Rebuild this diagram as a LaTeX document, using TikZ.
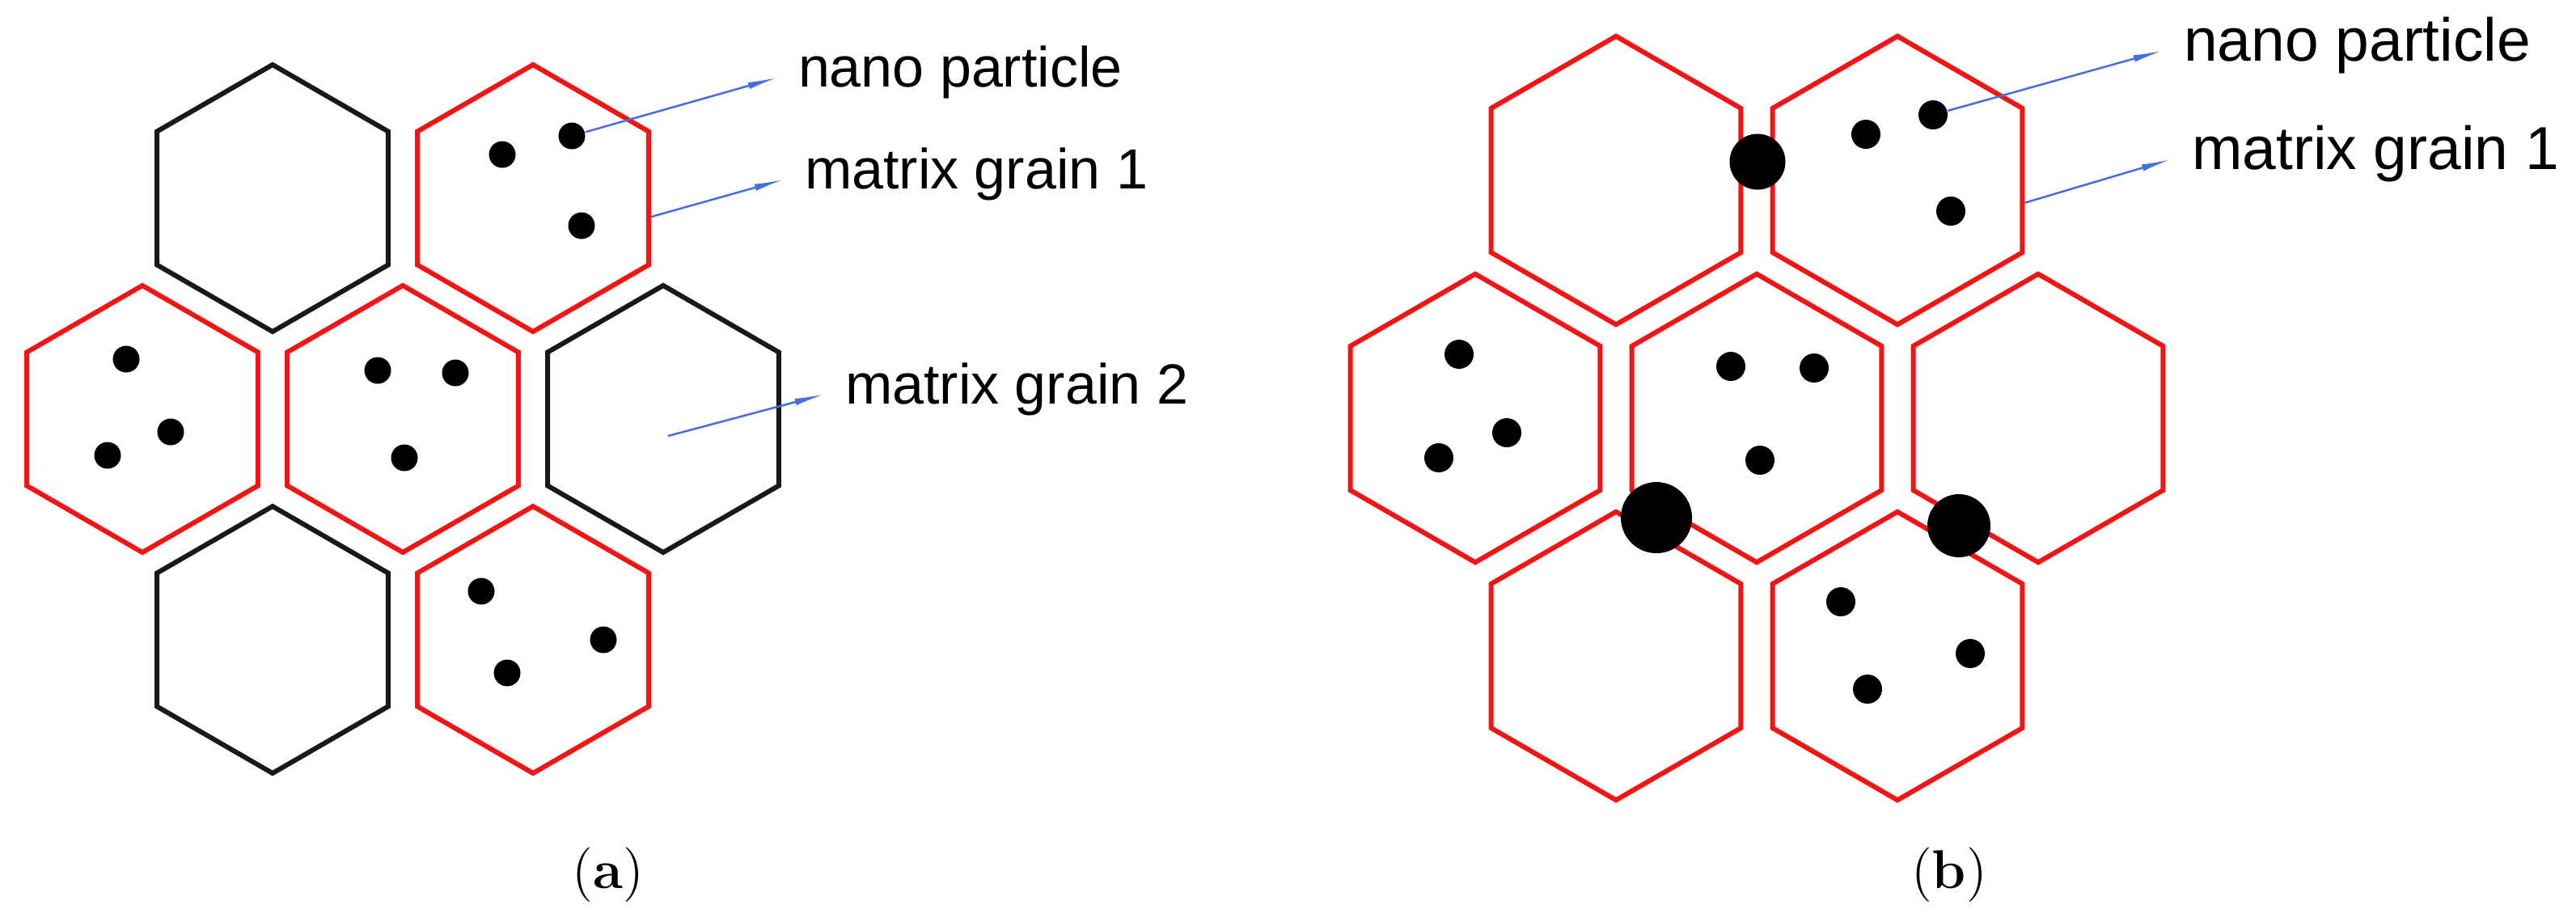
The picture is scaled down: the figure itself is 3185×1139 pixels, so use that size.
\documentclass[tikz,border=0pt]{standalone}
\usepackage{fontspec}
\usepackage{tikz}
\usetikzlibrary{positioning,shapes,arrows.meta,calc}
\newfontfamily\labelfont{Liberation Sans}
\definecolor{grainred}{RGB}{245,20,20}
\definecolor{leaderblue}{RGB}{70,110,225}
\tikzstyle{grain1} = [regular polygon, regular polygon sides=6, shape border rotate=30, %
   draw=grainred, line width=1.2pt, inner sep=0pt, minimum size=66pt]
\tikzstyle{grain2} = [grain1, draw=black!90]
\tikzstyle{grainb} = [grain1, minimum size=71.3pt]
\tikzstyle{particle} = [circle, fill=black, inner sep=0pt, minimum size=6.6pt]
\tikzstyle{particleb} = [particle, minimum size=7.2pt]
\tikzstyle{cluster} = [circle, fill=black, inner sep=0pt]
\tikzstyle{lbl} = [anchor=base west, inner sep=0pt, %
   font=\labelfont\fontsize{14}{16}\selectfont]
\tikzstyle{lblb} = [lbl, font=\labelfont\fontsize{15}{17}\selectfont]
\tikzstyle{sublabel} = [font=\fontsize{13.5}{16}\selectfont]
\tikzstyle{line} = [draw, line width=0.5pt, color=leaderblue, %
   -{Latex[length=7.5pt,width=1.7pt]}, shorten >=5pt]

\begin{document}
\begin{tikzpicture}[x=0.2pt, y=-0.2pt]
   \useasboundingbox (0,0) rectangle (3185,1139);
   % Place nodes

   % PANEL (a) %%%%%%%%%%%%%%%%%%%%%%%%%%%%%%%%%%%%%%%%%%%%%%%%%%%%%%%
   \node[grain2] (ha1) at (337,245) {};
   \node[grain1] (ha2) at (659,245) {};
   \node[grain1] (ha3) at (176,518) {};
   \node[grain1] (ha4) at (498,518) {};
   \node[grain2] (ha5) at (820,518) {};
   \node[grain2] (ha6) at (337,791) {};
   \node[grain1] (ha7) at (659,791) {};

   \node[particle] (pa1) at (621,191) {};
   \node[particle] (pa2) at (707,168) {};
   \node[particle] (pa3) at (719,279) {};
   \node[particle] (pa4) at (156,444) {};
   \node[particle] (pa5) at (211,534) {};
   \node[particle] (pa6) at (133,563) {};
   \node[particle] (pa7) at (467,458) {};
   \node[particle] (pa8) at (563,461) {};
   \node[particle] (pa9) at (500,566) {};
   \node[particle] (pa10) at (595,731) {};
   \node[particle] (pa11) at (746,791) {};
   \node[particle] (pa12) at (627,832) {};

   \node[lbl] (npa) at (986,107) {nano particle};
   \node[lbl] (mga1) at (994,233) {matrix grain 1};
   \node[lbl] (mga2) at (1044,499) {matrix grain 2};
   \coordinate (mga2start) at (826,539);

   \node[sublabel] (capa) at (752,1082) {(\textbf{a})};

   % PANEL (b) %%%%%%%%%%%%%%%%%%%%%%%%%%%%%%%%%%%%%%%%%%%%%%%%%%%%%%%
   \node[grainb] (hb1) at (1998,223) {};
   \node[grainb] (hb2) at (2346,223) {};
   \node[grainb] (hb3) at (1824,517) {};
   \node[grainb] (hb4) at (2172,517) {};
   \node[grainb] (hb5) at (2520,517) {};
   \node[grainb] (hb6) at (1998,811) {};
   \node[grainb] (hb7) at (2346,811) {};

   \node[particleb] (pb1) at (2307,166) {};
   \node[particleb] (pb2) at (2390,142) {};
   \node[particleb] (pb3) at (2412,261) {};
   \node[particleb] (pb4) at (1804,438) {};
   \node[particleb] (pb5) at (1863,535) {};
   \node[particleb] (pb6) at (1779,566) {};
   \node[particleb] (pb7) at (2140,453) {};
   \node[particleb] (pb8) at (2243,455) {};
   \node[particleb] (pb9) at (2176,569) {};
   \node[particleb] (pb10) at (2276,744) {};
   \node[particleb] (pb11) at (2436,808) {};
   \node[particleb] (pb12) at (2309,852) {};

   % particles sitting on the grain boundaries
   \node[cluster, minimum size=13.8pt] (gb1) at (2173,200) {};
   \node[cluster, minimum size=17.6pt] (gb2) at (2048,640) {};
   \node[cluster, minimum size=15.6pt] (gb3) at (2422,650) {};

   \node[lblb] (npb) at (2699,75) {nano particle};
   \node[lblb] (mgb1) at (2709,209) {matrix grain 1};

   \node[sublabel] (capb) at (2410,1082) {(\textbf{b})};

   % Draw edges
   \path [line] (pa2) -- (npa.west);
   \path [line] (ha2.-9) -- (mga1.west);
   \path [line] (mga2start) -- (mga2.west);
   \path [line] (pb2) -- (npb.west);
   \path [line] (hb2.-10) -- (mgb1.west);

\end{tikzpicture}
\end{document}
